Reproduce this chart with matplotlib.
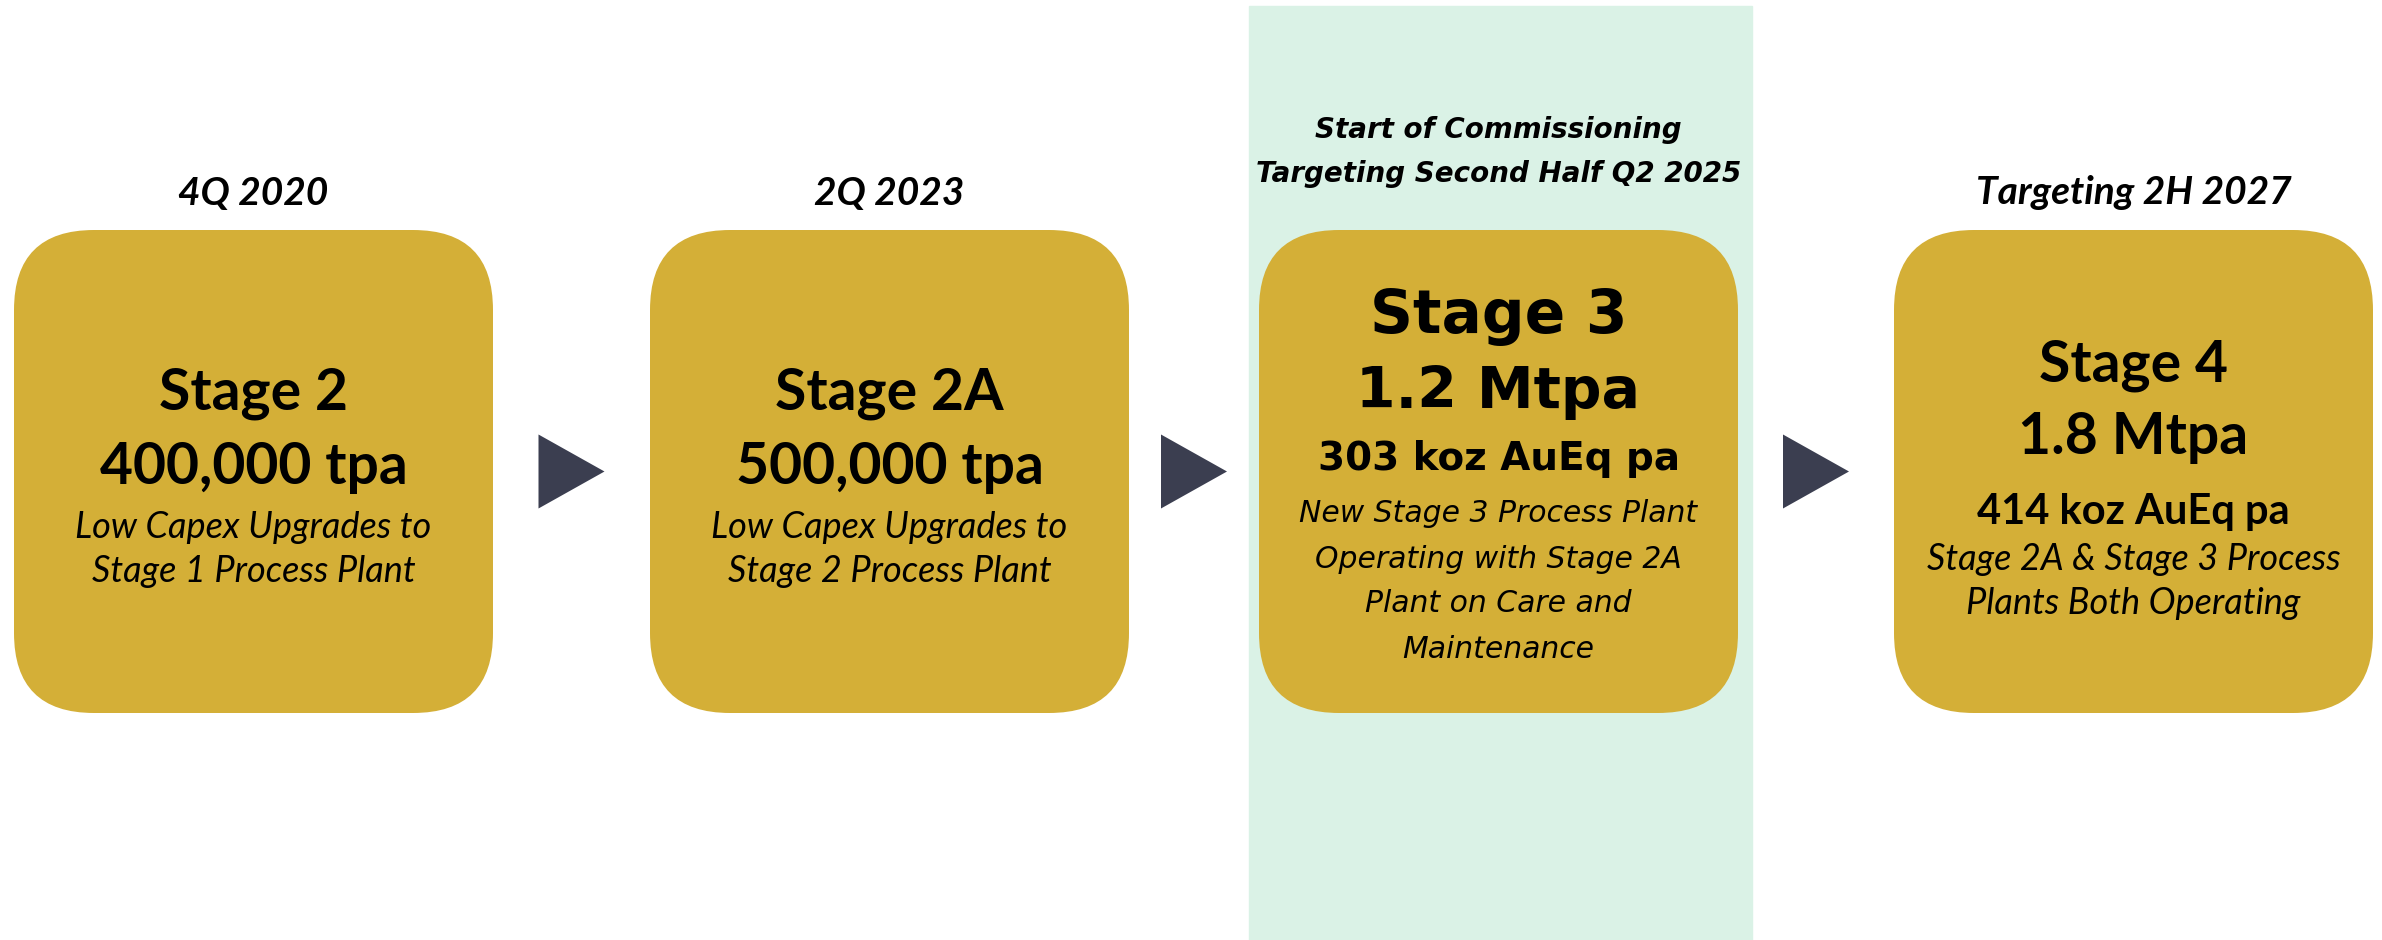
import matplotlib
matplotlib.use('Agg')
import matplotlib.pyplot as plt
from matplotlib.patches import FancyBboxPatch, Polygon, Rectangle

# stage timeline content
headers = ['4Q 2020', '2Q 2023', 'Start of Commissioning\nTargeting Second Half Q2 2025', 'Targeting 2H 2027']
titles = ['Stage 2', 'Stage 2A', 'Stage 3', 'Stage 4']
capacities = ['400,000 tpa', '500,000 tpa', '1.2 Mtpa', '1.8 Mtpa']
outputs = ['', '', '303 koz AuEq pa', '414 koz AuEq pa']
notes = [
    ['Low Capex Upgrades to', 'Stage 1 Process Plant'],
    ['Low Capex Upgrades to', 'Stage 2 Process Plant'],
    ['New Stage 3 Process Plant', 'Operating with Stage 2A', 'Plant on Care and', 'Maintenance'],
    ['Stage 2A & Stage 3 Process', 'Plants Both Operating'],
]
highlight = 2   # the stage sitting on the green band

W, H = 2382, 940
fig = plt.figure(figsize=(W / 100, H / 100), dpi=100)
ax = fig.add_axes([0, 0, 1, 1])
ax.set_xlim(0, W)
ax.set_ylim(H, 0)
ax.axis('off')

gold = '#D4AF37'
green = '#DAF2E6'
arrow_c = '#3B3E50'

box_left = [14, 650, 1259, 1894]
box_w = 479
box_top, box_bot = 230, 713
cy = (box_top + box_bot) / 2

# green highlight band behind stage 3
ax.add_patch(Rectangle((1249, 6), 503, H, color=green, zorder=0))

for i in range(4):
    x0 = box_left[i]
    xc = x0 + box_w / 2
    hl = i == highlight
    fam = 'DejaVu Sans' if hl else 'Lato'
    ax.add_patch(FancyBboxPatch((x0, box_top), box_w, box_bot - box_top,
                                boxstyle='round,pad=0,rounding_size=80',
                                fc=gold, ec='none', zorder=1))
    # header above box
    if hl:
        ax.text(xc, 152, headers[i], ha='center', va='center', fontsize=20,
                fontweight='bold', style='italic', family=fam, linespacing=1.75)
    else:
        ax.text(xc, 193, headers[i], ha='center', va='center', fontsize=28,
                fontweight='bold', style='italic', family=fam)

    if outputs[i]:
        ys = [317, 392, 459] if hl else [365, 437, 512]
        sizes = [43, 41, 28] if hl else [41, 41, 30]
        lines = [titles[i], capacities[i], outputs[i]]
    else:
        ys = [393, 468]
        sizes = [41, 41]
        lines = [titles[i], capacities[i]]
    for s, y, fs in zip(lines, ys, sizes):
        ax.text(xc, y, s, ha='center', va='center', fontsize=fs,
                fontweight='bold', family=fam, zorder=2)
    if hl:
        y, step, nfs = ys[-1] + 55, 45, 21.5
    elif outputs[i]:
        y, step, nfs = ys[-1] + 48, 43, 26
    else:
        y, step, nfs = ys[-1] + 60, 44, 26
    for s in notes[i]:
        ax.text(xc, y, s, ha='center', va='center', fontsize=nfs,
                style='italic', family=fam, zorder=2)
        y += step

# arrows between stages
for i in range(3):
    gap_c = (box_left[i] + box_w + box_left[i + 1]) / 2
    xs = gap_c - 33
    tri = Polygon([(xs, cy - 37), (xs, cy + 37), (xs + 66, cy)],
                  closed=True, fc=arrow_c, ec='none', zorder=1)
    ax.add_patch(tri)

plt.savefig('out.png', dpi=100)
